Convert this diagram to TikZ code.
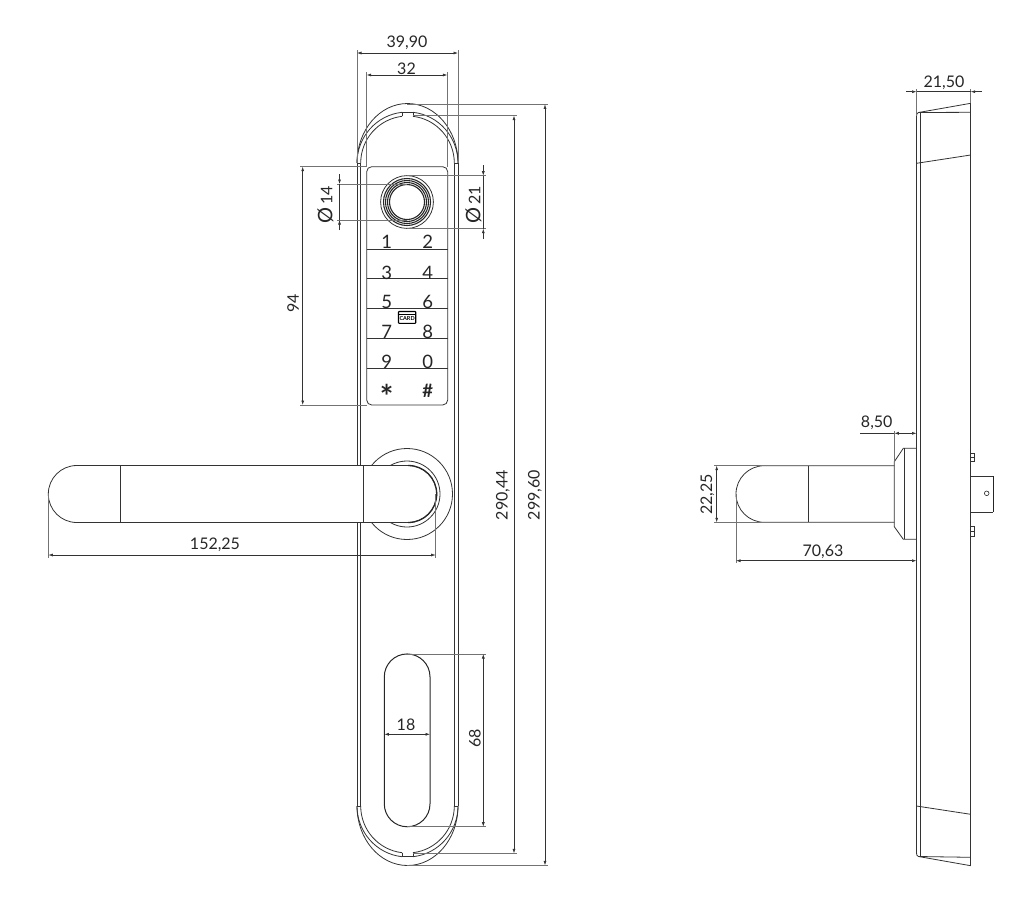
\documentclass[tikz,border=0pt]{standalone}
\usepackage{fontspec}
\setmainfont{Lato}
\usetikzlibrary{arrows.meta}
\tikzset{
  part/.style={line width=0.8pt,black!80},
  thick part/.style={line width=1.3pt,black!85},
  ext/.style={line width=0.6pt,black!55},
  dimln/.style={line width=0.6pt,black!80,{Latex[length=4.5pt,width=3pt]}-{Latex[length=4.5pt,width=3pt]}},
  tipone/.style={line width=0.6pt,black!80,-{Latex[length=4.5pt,width=3pt]}},
  lbl/.style={font=\fontsize{16}{16}\selectfont,text=black!85,inner sep=0pt},
  key/.style={font=\fontsize{18.5}{18.5}\selectfont,text=black!85,inner sep=0pt}
}
\newcommand{\bigdia}{{\fontsize{20}{20}\selectfont Ø}\hspace{3pt}}
\begin{document}
\begin{tikzpicture}[x=1pt,y=-1pt]
\useasboundingbox (0,0) rectangle (1020,919);

% front view, plate
  \draw [part] (357,163) -- (357,806); \draw [part] (360.7,163) -- (360.7,806);
  \draw [part] (454.3,163) -- (454.3,806); \draw [part] (458,163) -- (458,806);
  \draw [part] (357,163) -- (360.7,163); \draw [part] (454.3,163) -- (458,163);
  \draw [part] (357,806) -- (360.7,806); \draw [part] (454.3,806) -- (458,806);
  % top end
  \draw [part] (357,163) arc [start angle=180,end angle=360,x radius=50.5,y radius=59.5];
  \draw [part] (357,163) arc [start angle=180,end angle=263.8,x radius=50.5,y radius=51];
  \draw [part] (458,163) arc [start angle=0,end angle=-83.8,x radius=50.5,y radius=51];
  \draw [part] (360.7,163) arc [start angle=180,end angle=263.3,x radius=46.8,y radius=47];
  \draw [part] (454.3,163) arc [start angle=0,end angle=-83.3,x radius=46.8,y radius=47];
  \draw [part] (402,112.3) -- (402,116.3) (413,112.3) -- (413,116.3) (402,112.3) -- (413,112.3);
  % bottom end
  \draw [part] (357,806) arc [start angle=180,end angle=0,x radius=50.5,y radius=59.5];
  \draw [part] (357,806) arc [start angle=180,end angle=96.2,x radius=50.5,y radius=51];
  \draw [part] (458,806) arc [start angle=0,end angle=83.8,x radius=50.5,y radius=51];
  \draw [part] (360.7,806) arc [start angle=180,end angle=96.7,x radius=46.8,y radius=47];
  \draw [part] (454.3,806) arc [start angle=0,end angle=83.3,x radius=46.8,y radius=47];
  \draw [part] (402,852.7) -- (402,856.7) (413,852.7) -- (413,856.7) (402,856.7) -- (413,856.7);

% keypad
  \draw [part] (371.7,166.7) -- (442.7,166.7) arc [start angle=270,end angle=360,radius=5] -- (447.7,400) arc [start angle=0,end angle=90,radius=5] -- (371.7,405) arc [start angle=90,end angle=180,radius=5] -- (366.7,171.7) arc [start angle=180,end angle=270,radius=5] -- cycle;
  \foreach \rowy in {249,278.3,308.7,338.3,368.3} { \draw [part] (366.7,\rowy) -- (447.7,\rowy); }
  \node [key] (key1) at (386.7,242) {1}; \node [key] (key2) at (427.7,242) {2};
  \node [key] (key3) at (386.7,272.7) {3}; \node [key] (key4) at (427.7,272.7) {4};
  \node [key] (key5) at (386.7,302) {5}; \node [key] (key6) at (427.7,302) {6};
  \node [key] (key7) at (386.7,332) {7}; \node [key] (key8) at (427.7,332) {8};
  \node [key] (key9) at (386.7,362) {9}; \node [key] (key0) at (427.7,362) {0};
  \node [key,font=\bfseries\fontsize{32}{32}\selectfont] (keystar) at (386.7,396.5) {*}; \node [key,font=\bfseries\fontsize{18.5}{18.5}\selectfont] (keyhash) at (427.7,390.5) {\#};
  % card mark
  \draw [line width=1.1pt,black,rounded corners=0.6pt] (398.5,311.5) rectangle (415.7,323.3);
  \draw [line width=0.8pt,black] (398.5,314) -- (415.7,314);
  \node [font=\bfseries\fontsize{5.5}{5.5}\selectfont,inner sep=0pt] (cardtxt) at (407.1,318.8) {CARD};

% reader
  \draw [part] (407,202) circle (26.4);
  \foreach \ringr in {23.5,21.5,19.5,17.5} { \draw [line width=1.1pt,black!85] (407,202) circle (\ringr); }

% rose and handle
  \draw [part] (407,494) circle (45.5);
  \draw [part] (407,494) circle (33);
  \draw [part,fill=white] (76.8,465.5) -- (408.2,465.5) arc [start angle=270,end angle=450,radius=28.5] -- (76.8,522.5) arc [start angle=90,end angle=270,radius=28.5] -- cycle;
  \draw [thick part] (408.2,465.5) arc [start angle=270,end angle=450,radius=28.5];
  \draw [part] (120,465.5) -- (120,522.5); \draw [part] (363.3,465.5) -- (363.3,522.5);

% slot
  \draw [line width=1pt,black!85] (384.3,676.8) arc [start angle=180,end angle=360,radius=22.85] -- (430,803.9) arc [start angle=0,end angle=180,radius=22.85] -- cycle;

% dimensions, front view
  \draw [ext] (357,50) -- (357,163); \draw [ext] (458,50) -- (458,163);
  \draw [dimln] (357,53) -- (458,53); \node [lbl] (d3990) at (407,43) {39,90};
  \draw [ext] (366.7,72) -- (366.7,166.7); \draw [ext] (447.3,72) -- (447.3,166.7);
  \draw [dimln] (366.7,75) -- (447.3,75); \node [lbl] (d32) at (406.5,68.5) {32};
  \draw [ext] (407,104) -- (548,104); \draw [ext] (413,115.7) -- (517,115.7);
  \draw [ext] (407,865.3) -- (548,865.3); \draw [ext] (413,853.3) -- (517,853.3);
  \draw [dimln] (514,115.7) -- (514,853.3); \node [lbl,rotate=90] (d29044) at (503,495) {290,44};
  \draw [dimln] (545,104.3) -- (545,865.3); \node [lbl,rotate=90] (d29960) at (535,495) {299,60};
  \draw [ext] (300,166.7) -- (367,166.7); \draw [ext] (300,405) -- (367,405);
  \draw [dimln] (302.7,166.7) -- (302.7,405); \node [lbl,rotate=90] (d94) at (293,303) {94};
  % reader diameters, tips outside
  \draw [ext] (337,184) -- (407,184); \draw [ext] (337,220) -- (407,220);
  \draw [tipone] (339.5,174) -- (339.5,184); \draw [tipone] (339.5,230) -- (339.5,220); \draw [line width=0.6pt,black!80] (339.5,184) -- (339.5,220);
  \node [lbl,rotate=90] (dp14) at (325.5,205) {\bigdia 14};
  \draw [ext] (407,175.7) -- (486,175.7); \draw [ext] (407,228.7) -- (486,228.7);
  \draw [tipone] (483.3,165) -- (483.3,175.7); \draw [tipone] (483.3,239) -- (483.3,228.7); \draw [line width=0.6pt,black!80] (483.3,175.7) -- (483.3,228.7);
  \node [lbl,rotate=90] (dp21) at (473.5,205) {\bigdia 21};
  \draw [ext] (48.3,494) -- (48.3,558); \draw [ext] (435.7,494) -- (435.7,558);
  \draw [dimln] (48.3,555) -- (435.7,555); \node [lbl] (d15225) at (215,545) {152,25};
  \draw [dimln] (384.3,734.3) -- (430,734.3); \node [lbl] (d18) at (406,725) {18};
  \draw [ext] (407,654) -- (486,654); \draw [ext] (407,826.7) -- (486,826.7);
  \draw [dimln] (483.3,654) -- (483.3,826.7); \node [lbl,rotate=90] (d68) at (475,738) {68};

% side view
  \draw [part] (916.5,116) -- (916.5,853); \draw [part] (920.5,113) -- (920.5,856.7);
  \draw [part] (970.7,103.3) -- (970.7,865.7);
  \draw [part] (916.5,116) .. controls (916.5,114) and (917,113) .. (918.5,112.5) -- (970.7,103.3);
  \draw [part] (918.5,112.5) -- (970.7,112.3);
  \draw [part] (916.5,163.3) -- (970.7,155);
  \draw [part] (916.5,806) -- (970.7,814.3);
  \draw [part] (916.5,853) .. controls (916.5,855) and (917,856) .. (918.5,856.5) -- (970.7,865.7);
  \draw [part] (918.5,856.5) -- (970.7,857.3);
  % handle
  \draw [part] (894.3,465.7) -- (764.3,465.7) arc [start angle=270,end angle=90,radius=28.3] -- (894.3,522.3);
  \draw [part] (808.3,465.7) -- (808.3,522.3);
  % rose
  \draw [part] (916.5,448.3) -- (903.3,448.3) -- (894.3,461.7) -- (894.3,526.7) -- (903.3,539.3) -- (916.5,539.3);
  \draw [part] (904,448.3) -- (904,539.3);
  % latch and screws
  \draw [part] (970.7,476) -- (993.3,476); \draw [part] (970.7,512.3) -- (993.3,512.3);
  \draw [line width=1.1pt,black!85] (993.3,476) -- (993.3,512.3);
  \draw [line width=0.6pt,black!85] (986.7,493.3) circle (2.3);
  \draw [part] (970.7,453) rectangle (974.7,461.7); \draw [part] (970.7,457.3) -- (974.7,457.3);
  \draw [part] (970.7,526.7) rectangle (974.7,536.7); \draw [part] (970.7,531.7) -- (974.7,531.7);

% dimensions, side view
  \draw [ext] (916.5,89) -- (916.5,116); \draw [ext] (970.7,89) -- (970.7,103.3);
  \draw [tipone] (906,91.7) -- (916.5,91.7); \draw [tipone] (981.7,91.7) -- (970.7,91.7); \draw [line width=0.6pt,black!80] (916.5,91.7) -- (970.7,91.7);
  \node [lbl] (d2150) at (944,83) {21,50};
  \draw [ext] (894.3,431) -- (894.3,461.7);
  \draw [dimln] (894.3,433.3) -- (916.5,433.3); \draw [line width=0.6pt,black!80] (860,433.3) -- (894.3,433.3);
  \node [lbl] (d850) at (876.7,423) {8,50};
  \draw [ext] (714,465.7) -- (760.7,465.7); \draw [ext] (714,522.3) -- (760.7,522.3);
  \draw [dimln] (716.7,465.7) -- (716.7,522.3); \node [lbl,rotate=90] (d2225) at (707.3,494.5) {22,25};
  \draw [ext] (736,494) -- (736,563);
  \draw [dimln] (736,560.7) -- (916.5,560.7); \node [lbl] (d7063) at (823,551.7) {70,63};

\end{tikzpicture}
\end{document}
